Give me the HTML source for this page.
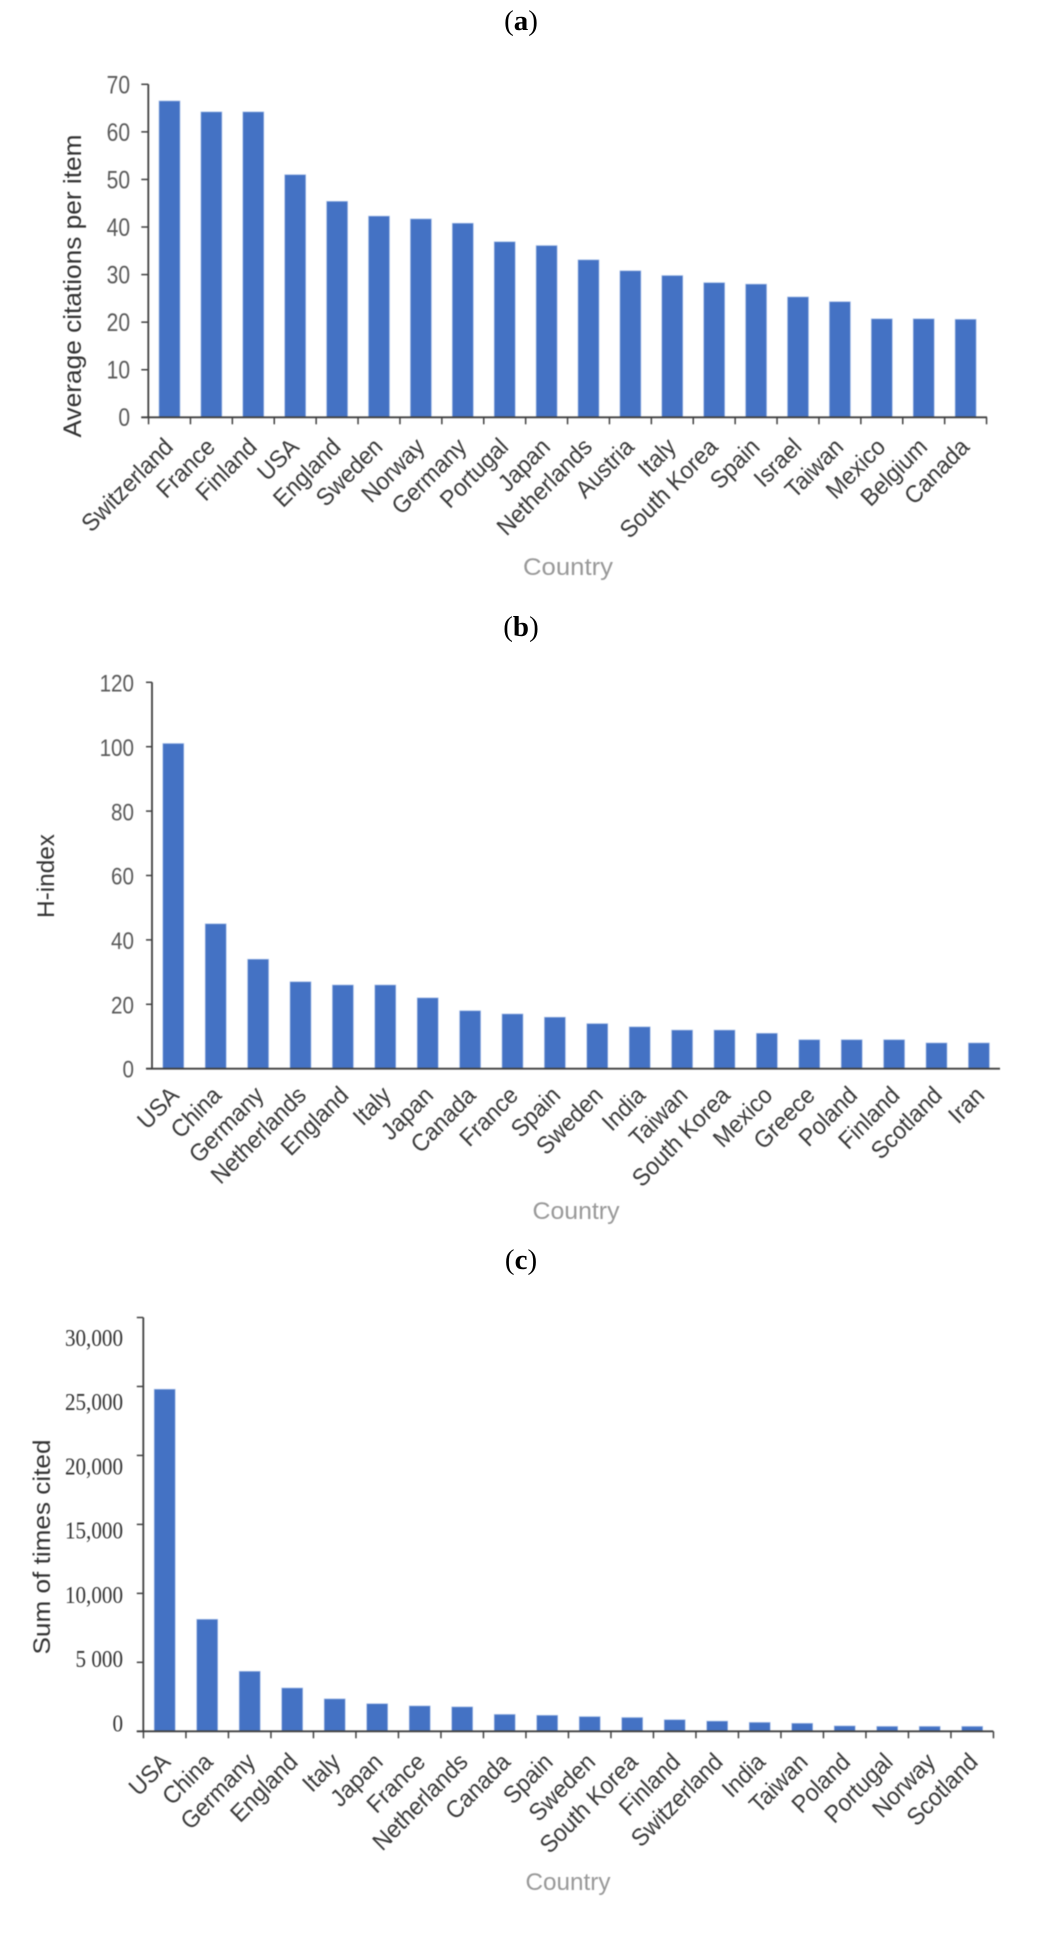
<!DOCTYPE html>
<html lang="en">
<head>
<meta charset="utf-8">
<title>Country citation charts</title>
<style>
html,body{margin:0;padding:0;background:#fff;width:1050px;height:1947px;overflow:hidden}
svg{display:block}
.soft{filter:blur(.6px)}
.cap{font-family:"Liberation Serif",serif;font-size:29px;fill:#000;text-anchor:middle}
.cap tspan{font-weight:bold}
</style>
</head>
<body>
<svg id="figure" width="1050" height="1947" viewBox="0 0 1050 1947" xmlns="http://www.w3.org/2000/svg">
  <text class="cap" x="521" y="30">(<tspan>a</tspan>)</text>
  <text class="cap" x="521" y="636">(<tspan>b</tspan>)</text>
  <text class="cap" x="521" y="1269">(<tspan>c</tspan>)</text>
</svg>
<script>
// Chart (a) data
const citationCountries = ["Switzerland","France","Finland","USA","England","Sweden","Norway","Germany","Portugal","Japan","Netherlands","Austria","Italy","South Korea","Spain","Israel","Taiwan","Mexico","Belgium","Canada"];
const citationValues = [66.5,64.2,64.2,51.0,45.4,42.3,41.7,40.8,36.9,36.1,33.1,30.8,29.8,28.3,28.0,25.3,24.3,20.7,20.7,20.6];
const citationTicks = [0,10,20,30,40,50,60,70];
const citationTickLabels = ["0","10","20","30","40","50","60","70"];

// Chart (b) data
const hIndexCountries = ["USA","China","Germany","Netherlands","England","Italy","Japan","Canada","France","Spain","Sweden","India","Taiwan","South Korea","Mexico","Greece","Poland","Finland","Scotland","Iran"];
const hIndexValues = [101,45,34,27,26,26,22,18,17,16,14,13,12,12,11,9,9,9,8,8];
const hIndexTicks = [0,20,40,60,80,100,120];
const hIndexTickLabels = ["0","20","40","60","80","100","120"];

// Chart (c) data
const timesCitedCountries = ["USA","China","Germany","England","Italy","Japan","France","Netherlands","Canada","Spain","Sweden","South Korea","Finland","Switzerland","India","Taiwan","Poland","Portugal","Norway","Scotland"];
const timesCitedValues = [24800,8120,4350,3140,2350,2000,1840,1770,1225,1160,1065,1000,840,740,645,580,390,355,355,355];
const timesCitedTicks = [0,5000,10000,15000,20000,25000,30000];
const timesCitedTickLabels = ["0","5 000","10,000","15,000","20,000","25,000","30,000"];

const NS = "http://www.w3.org/2000/svg";
const figure = document.getElementById("figure");

function shape(parent, tag, attrs) {
  const node = document.createElementNS(NS, tag);
  for (const key in attrs) node.setAttribute(key, attrs[key]);
  parent.appendChild(node);
  return node;
}

function drawChart(cfg) {
  const yScale = v => cfg.y0 + (cfg.yTop - cfg.y0) * v / cfg.max;
  const labelScale = v => cfg.labelY0 + (cfg.labelYTop - cfg.labelY0) * v / cfg.max;
  const xScale = i => cfg.firstCenter + i * cfg.step;

  const chart = shape(figure, "g", {"class": "soft"});
  
  

  cfg.values.forEach((v, i) => {
    const top = yScale(v);
    const bar = shape(chart, "rect", {
      x: xScale(i) - 10.5, y: top, width: 21, height: cfg.y0 - top,
      fill: "#4472c4", stroke: "#a9c0e8", "stroke-width": 0.7
    });
    
    
  });

  const yAxis = shape(chart, "line", {x1: cfg.axisX, x2: cfg.axisX, y1: yScale(cfg.max), y2: cfg.y0, stroke: "#404040", "stroke-width": 1.8});
  
  

  const xAxis = shape(chart, "line", {x1: cfg.axisX - cfg.tickLen, x2: cfg.axisEnd, y1: cfg.y0, y2: cfg.y0, stroke: "#404040", "stroke-width": 1.8});
  
  

  cfg.ticks.forEach((t, i) => {
    const y = yScale(t);
    const tick = shape(chart, "line", {x1: cfg.axisX - cfg.tickLen, x2: cfg.axisX, y1: y, y2: y, stroke: "#404040", "stroke-width": 1.5});
    
    

    const ly = labelScale(t) + cfg.tickFont * cfg.tickAscent;
    const label = shape(chart, "text", {
      transform: "translate(" + cfg.tickRight + "," + ly + ") scale(" + cfg.tickSqueeze + ",1)",
      "text-anchor": "end", "font-family": cfg.tickFamily, "font-size": cfg.tickFont, fill: cfg.tickColor
    });
    label.textContent = cfg.tickLabels[i];
    
    
  });

  if (cfg.xTicks) {
    for (let i = 0; i <= cfg.categories.length; i++) {
      const x = xScale(i) - cfg.step / 2;
      const tick = shape(chart, "line", {x1: x, x2: x, y1: cfg.y0, y2: cfg.y0 + 7, stroke: "#404040", "stroke-width": 1.5});
      
      
    }
  }

  cfg.categories.forEach((c, i) => {
    const ax = xScale(i) + cfg.labelDx;
    const ay = cfg.y0 + cfg.labelDy;
    const label = shape(chart, "text", {
      transform: "translate(" + ax + "," + ay + ") scale(1,1.02) rotate(-45) scale(.95,1)",
      "text-anchor": "end", "font-family": '"Liberation Sans",sans-serif', "font-size": 24, fill: "#3a3a3a"
    });
    label.textContent = c;
    
    
  });

  const yTitle = shape(chart, "text", {
    transform: "translate(" + cfg.titleX + "," + cfg.titleY + ") rotate(-90)",
    "text-anchor": "middle", "font-family": '"Liberation Sans",sans-serif', "font-size": cfg.titleFont, fill: "#333",
    textLength: cfg.titleLen, lengthAdjust: "spacingAndGlyphs"
  });
  yTitle.textContent = cfg.title;
  
  

  const xTitle = shape(chart, "text", {
    x: cfg.countryX, y: cfg.countryY, "text-anchor": "middle",
    "font-family": '"Liberation Sans",sans-serif', "font-size": 24, fill: "#999",
    textLength: cfg.countryLen, lengthAdjust: "spacingAndGlyphs"
  });
  xTitle.textContent = "Country";
  
  
}

const sansFamily = '"Liberation Sans",sans-serif';
const serifFamily = '"Liberation Serif",serif';

drawChart({
  name: "chart-average-citations", categories: citationCountries, values: citationValues,
  ticks: citationTicks, tickLabels: citationTickLabels, max: 70,
  y0: 417.3, yTop: 84.3, labelY0: 417, labelYTop: 84.3,
  axisX: 148.3, axisEnd: 987, firstCenter: 169.5, step: 41.9, tickLen: 7, xTicks: true,
  tickRight: 130, tickFont: 25, tickSqueeze: .84, tickFamily: sansFamily, tickColor: "#595959", tickAscent: .36,
  labelDx: 5, labelDy: 31,
  title: "Average citations per item", titleX: 81, titleY: 286, titleFont: 25, titleLen: 303,
  countryX: 568, countryY: 575, countryLen: 90
});

drawChart({
  name: "chart-h-index", categories: hIndexCountries, values: hIndexValues,
  ticks: hIndexTicks, tickLabels: hIndexTickLabels, max: 120,
  y0: 1068.7, yTop: 682.3, labelY0: 1069, labelYTop: 683,
  axisX: 152, axisEnd: 1000, firstCenter: 173.3, step: 42.4, tickLen: 6, xTicks: false,
  tickRight: 134, tickFont: 24, tickSqueeze: .86, tickFamily: sansFamily, tickColor: "#595959", tickAscent: .36,
  labelDx: 7, labelDy: 28,
  title: "H-index", titleX: 54, titleY: 876, titleFont: 24, titleLen: 84,
  countryX: 576, countryY: 1219, countryLen: 87
});

drawChart({
  name: "chart-times-cited", categories: timesCitedCountries, values: timesCitedValues,
  ticks: timesCitedTicks, tickLabels: timesCitedTickLabels, max: 30000,
  y0: 1731.3, yTop: 1317.5, labelY0: 1723.5, labelYTop: 1338,
  axisX: 143.3, axisEnd: 993.3, firstCenter: 164.7, step: 42.5, tickLen: 6.5, xTicks: true,
  tickRight: 123, tickFont: 24, tickSqueeze: .88, tickFamily: serifFamily, tickColor: "#333", tickAscent: .33,
  labelDx: 7, labelDy: 32,
  title: "Sum of times cited", titleX: 50, titleY: 1547, titleFont: 24, titleLen: 215,
  countryX: 568, countryY: 1890, countryLen: 85
});
</script>
</body>
</html>
